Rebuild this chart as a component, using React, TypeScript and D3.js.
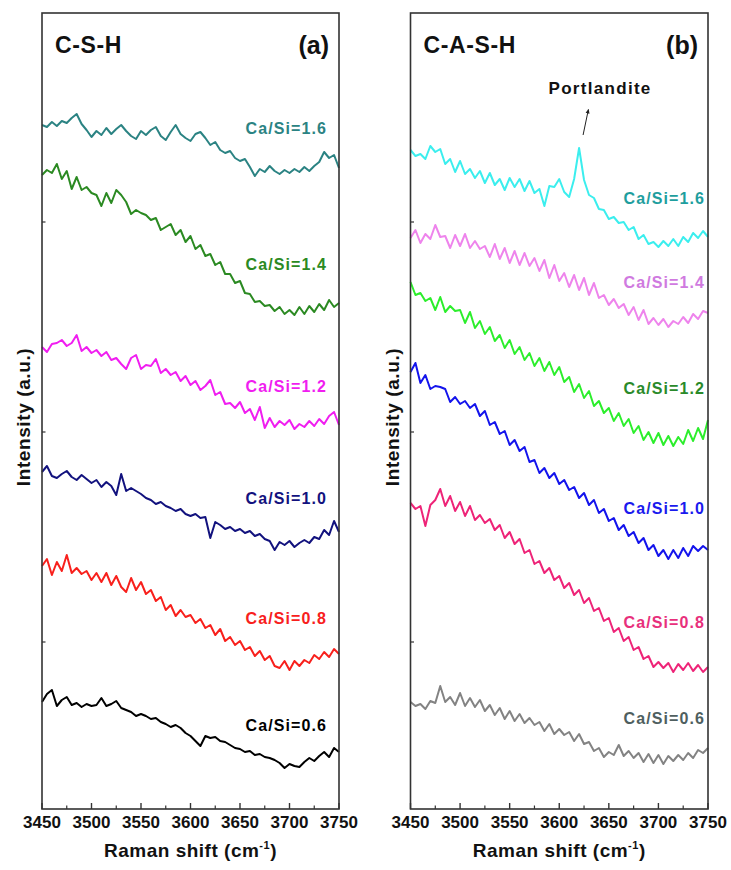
import React from "react";
import * as d3 from "d3";

// Raman shift sampling grid (cm-1), one reading every 5 cm-1
const shift = d3.range(3450, 3751, 5);

// C-S-H spectra (stacked intensity, a.u.)
const csh16 = [684, 682, 687, 683, 688, 686, 691, 695, 685, 679, 672, 678, 674, 681, 675, 680, 684, 678, 673, 670, 678, 674, 679, 682, 673, 669, 677, 684, 675, 671, 668, 675, 677, 671, 664, 667, 659, 656, 658, 651, 648, 650, 642, 633, 640, 637, 643, 638, 635, 639, 636, 640, 637, 642, 638, 643, 647, 657, 651, 654, 641];
const csh14 = [634, 639, 636, 645, 630, 638, 620, 632, 619, 622, 616, 614, 603, 616, 606, 619, 614, 607, 595, 599, 596, 594, 589, 591, 579, 582, 585, 574, 579, 567, 573, 560, 564, 553, 555, 544, 547, 535, 535, 526, 528, 516, 515, 507, 508, 503, 504, 498, 502, 495, 499, 494, 502, 495, 503, 497, 505, 499, 509, 502, 506];
const csh12 = [462, 457, 465, 466, 469, 463, 466, 474, 458, 462, 456, 459, 453, 457, 449, 451, 445, 440, 451, 454, 440, 444, 443, 450, 436, 440, 434, 437, 428, 433, 424, 428, 419, 423, 429, 414, 417, 405, 406, 401, 407, 396, 400, 389, 402, 381, 391, 382, 388, 384, 389, 380, 385, 382, 388, 383, 390, 385, 393, 397, 384];
const csh10 = [337, 343, 333, 331, 335, 338, 332, 329, 334, 330, 326, 329, 322, 327, 323, 314, 335, 318, 321, 318, 315, 311, 309, 305, 307, 303, 301, 298, 300, 295, 293, 295, 291, 292, 271, 287, 284, 280, 282, 278, 280, 276, 278, 273, 275, 270, 268, 259, 267, 264, 268, 262, 266, 269, 266, 272, 270, 279, 274, 288, 277];
const csh08 = [243, 250, 234, 247, 238, 254, 236, 241, 235, 238, 229, 236, 227, 236, 224, 233, 222, 217, 231, 219, 227, 215, 219, 208, 212, 199, 204, 193, 199, 192, 194, 186, 190, 181, 184, 174, 180, 168, 172, 164, 168, 159, 162, 153, 158, 149, 153, 143, 141, 148, 139, 148, 143, 149, 146, 154, 150, 157, 152, 160, 155];
const csh06 = [107, 115, 119, 103, 109, 112, 104, 106, 102, 105, 103, 104, 111, 103, 105, 108, 101, 99, 97, 93, 95, 93, 90, 91, 87, 85, 82, 84, 81, 76, 73, 68, 63, 73, 71, 72, 68, 67, 64, 61, 60, 57, 58, 54, 55, 52, 51, 49, 46, 41, 45, 43, 42, 47, 51, 48, 53, 57, 52, 61, 57];

// C-A-S-H spectra (stacked intensity, a.u.)
const cash16 = [659, 653, 655, 650, 663, 657, 660, 645, 650, 637, 648, 635, 640, 631, 638, 626, 636, 624, 630, 619, 631, 622, 630, 618, 628, 616, 620, 603, 623, 622, 630, 617, 612, 630, 661, 629, 614, 611, 600, 599, 590, 592, 586, 587, 579, 582, 570, 574, 565, 567, 562, 568, 563, 570, 563, 572, 567, 576, 571, 578, 572];
const cash14 = [571, 579, 566, 575, 570, 584, 572, 573, 561, 574, 563, 575, 561, 568, 560, 563, 552, 565, 550, 561, 546, 558, 544, 556, 543, 551, 538, 549, 531, 544, 528, 536, 522, 534, 519, 531, 514, 526, 511, 514, 504, 510, 501, 505, 494, 502, 489, 499, 485, 491, 484, 490, 482, 488, 485, 492, 486, 495, 490, 498, 496];
const cash12 = [527, 514, 516, 508, 511, 499, 512, 497, 503, 498, 499, 486, 497, 481, 488, 475, 482, 468, 474, 461, 469, 455, 462, 449, 456, 443, 451, 438, 447, 434, 442, 427, 432, 417, 425, 411, 418, 403, 408, 396, 401, 388, 396, 383, 390, 376, 383, 369, 377, 366, 376, 364, 373, 363, 372, 365, 379, 368, 381, 370, 389];
const cash10 = [437, 446, 426, 434, 420, 423, 422, 420, 407, 412, 405, 408, 401, 405, 393, 398, 384, 387, 375, 378, 364, 369, 358, 362, 347, 349, 336, 341, 331, 336, 325, 329, 319, 322, 311, 316, 304, 309, 296, 300, 288, 291, 279, 284, 273, 277, 266, 271, 259, 264, 253, 259, 250, 259, 251, 261, 253, 263, 258, 263, 259];
const cash08 = [306, 300, 303, 283, 304, 309, 320, 303, 313, 298, 307, 293, 303, 289, 294, 286, 290, 279, 284, 271, 277, 265, 270, 256, 259, 245, 248, 236, 241, 229, 233, 221, 226, 214, 219, 206, 211, 198, 201, 188, 191, 177, 181, 168, 172, 159, 162, 150, 153, 142, 147, 141, 146, 137, 145, 139, 146, 138, 144, 137, 142];
const cash06 = [107, 103, 105, 100, 108, 106, 123, 107, 112, 104, 116, 103, 111, 102, 109, 98, 104, 94, 101, 90, 98, 88, 95, 86, 91, 84, 87, 78, 85, 75, 80, 74, 77, 68, 75, 65, 67, 58, 61, 52, 57, 54, 64, 53, 58, 51, 56, 47, 55, 46, 54, 45, 53, 48, 54, 49, 56, 51, 59, 56, 61];

const ratioLabels = ["Ca/Si=1.6", "Ca/Si=1.4", "Ca/Si=1.2", "Ca/Si=1.0", "Ca/Si=0.8", "Ca/Si=0.6"];
const xTicks = [3450, 3500, 3550, 3600, 3650, 3700, 3750];
const xMinorTicks = [3475, 3525, 3575, 3625, 3675, 3725];
const yTicks = [167, 377, 587];

const panels = [
  {
    title: "C-S-H",
    tag: "(a)",
    left: 42,
    right: 339,
    series: [csh16, csh14, csh12, csh10, csh08, csh06],
    colors: ["#2b8383", "#2b8a22", "#f01ef0", "#12127e", "#f8201c", "#000000"],
    labelColors: ["#2b8383", "#2b8a22", "#f01ef0", "#12127e", "#f8201c", "#000000"],
    labelLevels: [675, 539, 417, 305, 185, 78],
    labelRight: 327,
  },
  {
    title: "C-A-S-H",
    tag: "(b)",
    left: 410.5,
    right: 708,
    series: [cash16, cash14, cash12, cash10, cash08, cash06],
    colors: ["#3beeee", "#ee84ec", "#2cee2c", "#1414ec", "#ee2478", "#838383"],
    labelColors: ["#1e9e9e", "#d07ae0", "#2a8a2a", "#1a1aee", "#e8307c", "#4f5f5f"],
    labelLevels: [605, 521, 415, 295, 181, 85],
    labelRight: 705,
  },
];

const FONT = "'Liberation Sans', Arial, Helvetica, sans-serif";
const TOP = 13;
const BOTTOM = 809;

const y = d3.scaleLinear().domain([0, BOTTOM - TOP]).range([BOTTOM, TOP]);

function Panel({ p }: { p: (typeof panels)[number] }) {
  const x = d3.scaleLinear().domain([3450, 3750]).range([p.left, p.right]);
  const line = d3
    .line<number>()
    .x((_, i) => x(shift[i]))
    .y(d => y(d));
  const mid = (p.left + p.right) / 2;
  const yTitleX = p.left - 12;

  return (
    <g>
      {p.series.map((s, k) => (
        <path
          key={k}
          d={line(s) || ""}
          fill="none"
          stroke={p.colors[k]}
          strokeWidth={2}
          strokeLinejoin="round"
        />
      ))}
      <rect
        x={p.left}
        y={TOP}
        width={p.right - p.left}
        height={BOTTOM - TOP}
        fill="none"
        stroke="#333"
        strokeWidth={1.6}
      />
      {xTicks.map(t => (
        <g key={t}>
          <line x1={x(t)} x2={x(t)} y1={BOTTOM} y2={BOTTOM - 6} stroke="#333" strokeWidth={1.4} />
          <text
            x={x(t)}
            y={828}
            textAnchor="middle"
            fontFamily={FONT}
            fontWeight="bold"
            fontSize={17}
            fill="#111"
          >
            {t}
          </text>
        </g>
      ))}
      {xMinorTicks.map(t => (
        <line key={t} x1={x(t)} x2={x(t)} y1={BOTTOM} y2={BOTTOM - 3.5} stroke="#333" strokeWidth={1.2} />
      ))}
      {yTicks.map(t => (
        <line key={t} x1={p.left} x2={p.left + 3.5} y1={y(t)} y2={y(t)} stroke="#333" strokeWidth={1.2} />
      ))}
      {p.series.map((_, k) => (
        <text
          key={k}
          x={p.labelRight}
          y={y(p.labelLevels[k])}
          textAnchor="end"
          fontFamily={FONT}
          fontWeight="bold"
          fontSize={16}
          letterSpacing={1.1}
          fill={p.labelColors[k]}
        >
          {ratioLabels[k]}
        </text>
      ))}
      <text x={p.left + 13} y={53} fontFamily={FONT} fontWeight="bold" fontSize={23} letterSpacing={0.6} fill="#111">
        {p.title}
      </text>
      <text x={p.right - 10} y={54} textAnchor="end" fontFamily={FONT} fontWeight="bold" fontSize={25} fill="#111">
        {p.tag}
      </text>
      <text
        x={mid}
        y={857}
        textAnchor="middle"
        fontFamily={FONT}
        fontWeight="bold"
        fontSize={19}
        letterSpacing={0.5}
        fill="#111"
      >
        Raman shift (cm
        <tspan fontSize={11} dy={-8}>-1</tspan>
        <tspan dy={8}>)</tspan>
      </text>
      <text
        transform={`translate(${yTitleX},417) rotate(-90)`}
        textAnchor="middle"
        fontFamily={FONT}
        fontWeight="bold"
        fontSize={19}
        letterSpacing={0.6}
        fill="#111"
      >
        Intensity (a.u.)
      </text>
    </g>
  );
}

export default function App() {
  const xb = d3.scaleLinear().domain([3450, 3750]).range([panels[1].left, panels[1].right]);
  const peak = 3620;
  return (
    <svg
      width={731}
      height={870}
      style={{ position: "absolute", left: 0, top: 0, background: "#fff" }}
    >
      <defs>
        <marker id="arr" viewBox="0 0 10 10" refX="5" refY="5" markerWidth="5" markerHeight="6" orient="auto">
          <path d="M0,1 L10,5 L0,9 z" fill="#222" />
        </marker>
      </defs>
      {panels.map(p => (
        <Panel key={p.tag} p={p} />
      ))}
      <text
        x={xb(peak) + 21}
        y={94}
        textAnchor="middle"
        fontFamily={FONT}
        fontWeight="bold"
        fontSize={17}
        letterSpacing={1.3}
        fill="#111"
      >
        Portlandite
      </text>
      <line
        x1={xb(peak) + 4}
        y1={y(674)}
        x2={xb(peak) + 9}
        y2={y(698)}
        stroke="#222"
        strokeWidth={1}
        markerEnd="url(#arr)"
      />
    </svg>
  );
}
